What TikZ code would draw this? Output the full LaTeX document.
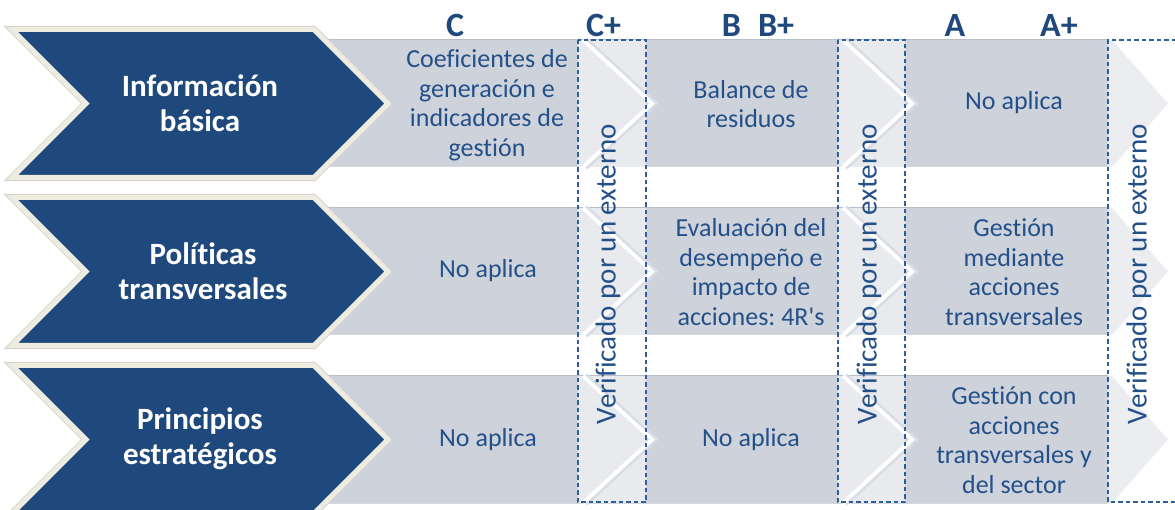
\documentclass[tikz,border=0pt]{standalone}
\usepackage{fontspec}
\setmainfont{Carlito}[Ligatures={TeXOff,CommonOff}]
\frenchspacing
\definecolor{navy}{HTML}{1F497D}
\definecolor{txtblue}{HTML}{24508A}
\definecolor{cream}{HTML}{EEECE1}
\definecolor{creamshadow}{HTML}{D3D3CB}
\definecolor{boxgray}{HTML}{CED2DA}
\definecolor{boxedge}{HTML}{B9BDC5}
\definecolor{lightg}{HTML}{E8EAEE}
\definecolor{lightg2}{HTML}{ECEDF1}
\definecolor{whshadow}{HTML}{D9DCE2}
\definecolor{dashblue}{HTML}{2C5F9B}
\tikzset{
  darkchev/.style={fill=navy, draw=cream, line width=5pt, line join=miter},
  chevshadow/.style={draw=creamshadow, line width=7pt, line join=miter},
  grayband/.style={fill=boxgray},
  bandedge/.style={draw=boxedge, line width=1pt},
  gapfill/.style={fill=lightg},
  whiteline/.style={draw=white, line width=4pt, line join=miter},
  whiteshadow/.style={draw=whshadow, line width=6.5pt, line join=miter},
  endchev/.style={fill=lightg2},
  dashbox/.style={draw=dashblue, line width=1.3pt, dash pattern=on 4.5pt off 3pt},
  bodytxt/.style={text=txtblue, align=center, inner sep=0pt, font=\fontsize{26}{29.5}\selectfont},
  headtxt/.style={text=navy, inner sep=0pt, anchor=base, font=\bfseries\fontsize{34}{34}\selectfont},
  chevtxt/.style={text=white, align=center, inner sep=0pt, font=\bfseries\fontsize{31}{35}\selectfont},
  verttxt/.style={text=txtblue, inner sep=0pt, rotate=90, font=\fontsize{29}{29}\selectfont}
}
\begin{document}
\begin{tikzpicture}[x=1pt,y=-1pt]
\useasboundingbox (0,0) rectangle (1175,510);
\fill[white] (0,0) rectangle (1175,510);
\foreach \cy in {103.5,271.5,439.5}{
  % gray band
  \fill[grayband] (326,{\cy-63.5}) rectangle (1108,{\cy+63.5});
  \draw[bandedge] (326,{\cy-63.5}) -- (1108,{\cy-63.5});
  \draw[bandedge, draw=boxedge!60] (326,{\cy+63.5}) -- (1108,{\cy+63.5});
  % light gaps with white chevrons
  \fill[gapfill] (578,{\cy-63.5}) rectangle (646,{\cy+63.5});
  \fill[gapfill] (838,{\cy-63.5}) rectangle (905,{\cy+63.5});
  \draw[whiteshadow] (585,{\cy-63.5}) -- (654,{\cy}) -- (585,{\cy+63.5});
  \draw[whiteline] (583,{\cy-63.5}) -- (652,{\cy}) -- (583,{\cy+63.5});
  \draw[whiteshadow] (845,{\cy-63.5}) -- (914,{\cy}) -- (845,{\cy+63.5});
  \draw[whiteline] (843,{\cy-63.5}) -- (912,{\cy}) -- (843,{\cy+63.5});
  % end chevron
  \fill[endchev] (1108,{\cy-63.5}) -- (1112,{\cy-63.5}) -- (1168,{\cy}) -- (1112,{\cy+63.5}) -- (1108,{\cy+63.5}) -- cycle;
  % dark chevron
  \draw[chevshadow] (12,{\cy-74}) -- (314,{\cy-74}) -- (388,{\cy}) -- (314,{\cy+74}) -- (12,{\cy+74}) -- (86,{\cy}) -- cycle;
  \draw[darkchev] (12,{\cy-74}) -- (314,{\cy-74}) -- (388,{\cy}) -- (314,{\cy+74}) -- (12,{\cy+74}) -- (86,{\cy}) -- cycle;
}
% dashed verification boxes
\draw[dashbox] (578,40) rectangle (646,502);
\draw[dashbox] (838,40) rectangle (905,502);
\draw[dashbox] (1176,40) -- (1108,40) -- (1108,502) -- (1176,502);
% headers
\node[headtxt] (hC)  at (455,37) {C};
\node[headtxt] (hCp) at (603.5,37) {C+};
\node[headtxt] (hB)  at (731.5,37) {B};
\node[headtxt] (hBp) at (776,37) {B+};
\node[headtxt] (hA)  at (955,37) {A};
\node[headtxt] (hAp) at (1059,37) {A+};
% chevron labels
\node[chevtxt] (l1) at (200,103) {Información\\básica};
\node[chevtxt] (l2) at (203,271) {Políticas\\transversales};
\node[chevtxt] (l3) at (200,439) {Principios\\estratégicos};
% row 1
\node[bodytxt] (c1) at (487,105) {Coeficientes de\\generación e\\indicadores de\\gestión};
\node[bodytxt] (b1) at (751,104) {Balance de\\residuos};
\node[bodytxt] (a1) at (1014,103) {No aplica};
% row 2
\node[bodytxt] (c2) at (488,271) {No aplica};
\node[bodytxt] (b2) at (751,272) {Evaluación del\\desempeño e\\impacto de\\acciones: 4R's};
\node[bodytxt] (a2) at (1014,272) {Gestión\\mediante\\acciones\\transversales};
% row 3
\node[bodytxt] (c3) at (488,440) {No aplica};
\node[bodytxt] (b3) at (751,440) {No aplica};
\node[bodytxt] (a3) at (1014,440) {Gestión con\\acciones\\transversales y\\del sector};
% vertical texts
\node[verttxt] (v1) at (608,274) {Verificado por un externo};
\node[verttxt] (v2) at (869,274) {Verificado por un externo};
\node[verttxt] (v3) at (1139,274) {Verificado por un externo};
\end{tikzpicture}
\end{document}
